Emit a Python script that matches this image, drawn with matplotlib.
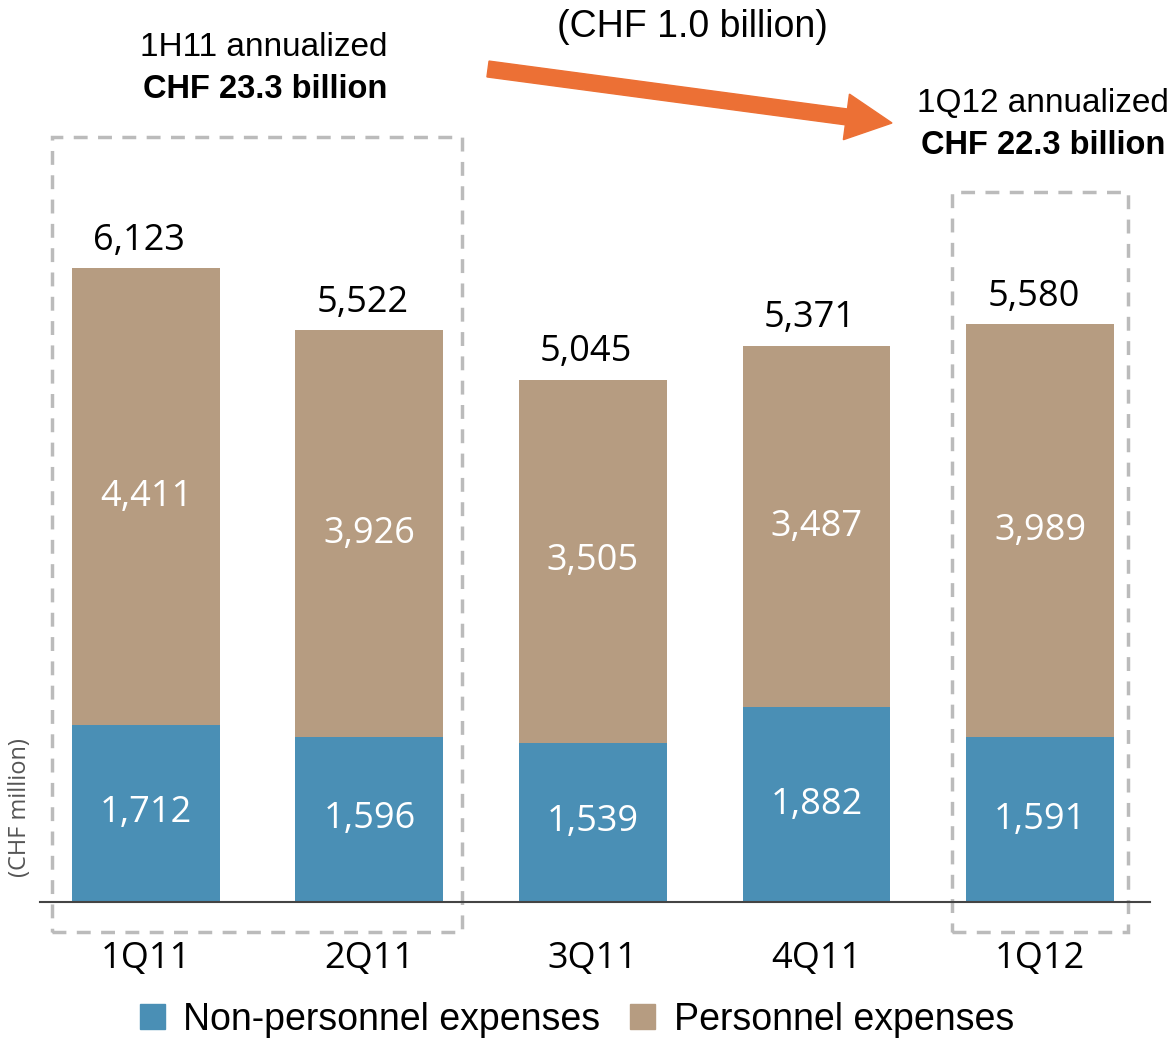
import matplotlib.pyplot as plt
import numpy as np
from matplotlib.patches import Rectangle, FancyArrow, Patch

quarters = ['1Q11', '2Q11', '3Q11', '4Q11', '1Q12']
non_personnel = [1712, 1596, 1539, 1882, 1591]
personnel = [4411, 3926, 3505, 3487, 3989]
totals = [6123, 5522, 5045, 5371, 5580]

blue = '#4A8FB5'
tan = '#B69C81'
num_font = 'Open Sans'
txt_font = 'Liberation Sans'

W, H = 1173, 1046
fig = plt.figure(figsize=(W / 100, H / 100), dpi=100)
# axes from pixel x 40..1150, y baseline at 902 up to top of figure
ax = fig.add_axes([40 / W, (H - 902) / H, 1110 / W, 902 / H])

x = np.arange(len(quarters))
width = 0.662
ax.bar(x, non_personnel, width, color=blue)
ax.bar(x, personnel, width, bottom=non_personnel, color=tan)

ax.set_xlim(-0.474, 4.492)
ax.set_ylim(0, 902 / 0.1035)

for i in range(len(quarters)):
    ax.text(x[i], non_personnel[i] / 2, f'{non_personnel[i]:,}', ha='center', va='center',
            color='white', fontsize=26, family=num_font)
    ax.text(x[i], non_personnel[i] + personnel[i] / 2, f'{personnel[i]:,}', ha='center',
            va='center', color='white', fontsize=26, family=num_font)
    ax.annotate(f'{totals[i]:,}', (x[i] - 0.03, totals[i]), xytext=(0, 7),
                textcoords='offset points', ha='center', va='bottom', fontsize=26,
                family=num_font, color='black')

ax.set_xticks(x)
ax.set_xticklabels(quarters, fontsize=26, family=num_font)
ax.tick_params(axis='x', length=0, pad=28)
ax.set_yticks([])
for s in ['top', 'right', 'left']:
    ax.spines[s].set_visible(False)
ax.spines['bottom'].set_color('#444444')
ax.spines['bottom'].set_linewidth(1.5)

# dashed boxes (pixel positions converted to data coords, drawn outside the axes)
def to_data_y(py):
    return (902 - py) / 0.1035

def to_data_x(px):
    return (px - 146) / 223.5

for (x0, y0, x1, y1) in [(52, 137, 462, 932), (952, 192, 1128, 932)]:
    r = Rectangle((to_data_x(x0), to_data_y(y1)), to_data_x(x1) - to_data_x(x0),
                  to_data_y(y0) - to_data_y(y1), fill=False, edgecolor='#BBBBBB',
                  linewidth=2.5, linestyle=(0, (4, 3)), clip_on=False)
    ax.add_patch(r)

fig.text(20 / W, 1 - 808 / H, '(CHF million)', rotation=90, ha='center', va='center',
         fontsize=17, color='#555555', family=num_font)

# annotations
fig.text(264 / W, 1 - 48 / H, '1H11 annualized', ha='center', va='center', fontsize=24,
         family=txt_font)
fig.text(265 / W, 1 - 90 / H, 'CHF 23.3 billion', ha='center', va='center', fontsize=23.5,
         family=txt_font, weight='bold')
fig.text(692 / W, 1 - 27 / H, '(CHF 1.0 billion)', ha='center', va='center', fontsize=27,
         family=txt_font)
fig.text(1043 / W, 1 - 104 / H, '1Q12 annualized', ha='center', va='center', fontsize=24,
         family=txt_font)
fig.text(1043 / W, 1 - 146 / H, 'CHF 22.3 billion', ha='center', va='center', fontsize=23.5,
         family=txt_font, weight='bold')

arr = FancyArrow(488 / 100, (H - 69) / 100, 404 / 100, -54 / 100, width=0.16,
                 head_width=0.46, head_length=0.46, length_includes_head=True,
                 color='#EC7035', transform=fig.dpi_scale_trans)
fig.add_artist(arr)

handles = [Patch(color=blue, label='Non-personnel expenses'),
           Patch(color=tan, label='Personnel expenses')]
fig.legend(handles=handles, loc='center', bbox_to_anchor=(577 / W, 1 - 1020 / H), ncol=2,
           frameon=False, prop={'family': txt_font, 'size': 27}, handlelength=0.65,
           handleheight=0.65, handletextpad=0.5, columnspacing=0.8)

fig.savefig('out.png', dpi=100)
